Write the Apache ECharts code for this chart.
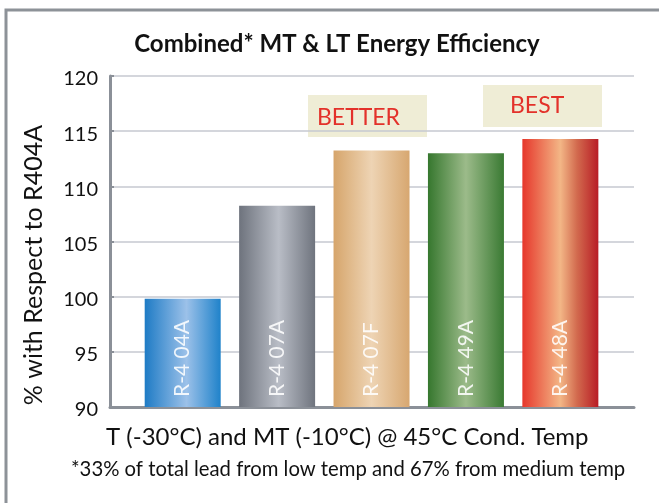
<!DOCTYPE html>
<html lang="en">
<head>
    <meta charset="UTF-8">
    <title>Combined MT & LT Energy Efficiency</title>
    <script src="https://cdn.jsdelivr.net/npm/echarts@6/dist/echarts.min.js"></script>
    <style type="text/css">
        html, body{
            margin: 0;
            padding: 0;
            background: #fff;
        }
        #main{
            width: 659px;
            height: 503px;
        }
    </style>
</head>
<body>
    <div id="main"></div>
    <script>
        // data
        var categories = ['R-4 04A', 'R-4 07A', 'R-4 07F', 'R-4 49A', 'R-4 48A'];
        var values = [99.8, 108.25, 113.25, 113.0, 114.3];
        var yTicks = [90, 95, 100, 105, 110, 115, 120];
        var notes = [
            {text: 'BETTER', cat: 2},
            {text: 'BEST', cat: 4}
        ];

        // bar gradients (edge, middle, edge)
        var barColors = [
            [['#1e7bc5', 0], ['#9cc1e9', 0.55], ['#1f82ca', 1]],
            [['#6e737d', 0], ['#b9bdc6', 0.52], ['#6f747e', 1]],
            [['#d6a56b', 0], ['#eed4b4', 0.5], ['#d7a770', 1]],
            [['#36772e', 0], ['#9cbb8a', 0.5], ['#3a7a33', 1]],
            [['#e6372b', 0], ['#f3b686', 0.5], ['#d26a4e', 0.72], ['#b81c25', 1]]
        ];

        var myChart = echarts.init(document.getElementById('main'));

        var barData = values.map(function (v, i) {
            return {
                value: [i, v],
                itemStyle: {
                    color: new echarts.graphic.LinearGradient(0, 0, 1, 0, barColors[i].map(function (s) {
                        return {offset: s[1], color: s[0]};
                    }))
                }
            };
        });

        var option = {
            backgroundColor: '#fff',
            animation: false,
            textStyle: {
                fontFamily: 'Lato'
            },
            grid: {
                left: 110,
                right: 25,
                top: 76,
                bottom: 96
            },
            xAxis: {
                type: 'value',
                min: -0.77,
                max: 4.78,
                axisLine: {
                    show: true,
                    onZero: false,
                    lineStyle: {color: '#8b9098', width: 3}
                },
                axisTick: {show: false},
                axisLabel: {show: false},
                splitLine: {show: false}
            },
            yAxis: {
                type: 'value',
                min: yTicks[0],
                max: yTicks[yTicks.length - 1],
                interval: 5,
                axisLine: {
                    show: true,
                    onZero: false,
                    lineStyle: {color: '#8b9098', width: 3}
                },
                axisTick: {
                    show: true,
                    inside: true,
                    length: 4,
                    lineStyle: {color: '#8b9098', width: 2}
                },
                axisLabel: {
                    color: '#111',
                    fontSize: 20,
                    margin: 12,
                    verticalAlign: 'top',
                    padding: [-7, 0, 0, 0]
                },
                splitLine: {
                    lineStyle: {color: '#c6c9d1', width: 1.5}
                }
            },
            series: [{
                type: 'bar',
                barWidth: 76,
                data: barData,
                label: {
                    show: true,
                    position: 'insideBottom',
                    rotate: 90,
                    align: 'left',
                    verticalAlign: 'middle',
                    distance: 10,
                    fontSize: 21,
                    color: 'rgba(255,255,255,0.88)',
                    formatter: function (p) {
                        return categories[p.dataIndex];
                    }
                }
            }],
            graphic: [
                // outer frame
                {
                    type: 'rect',
                    shape: {x: 6, y: 10, width: 700, height: 600},
                    style: {fill: 'none', stroke: '#8d9298', lineWidth: 3},
                    z: 100
                },
                {
                    type: 'text',
                    x: 337,
                    y: 44,
                    style: {
                        text: 'Combined* MT & LT Energy Efficiency',
                        font: 'bold 24px Lato',
                        fill: '#111',
                        align: 'center',
                        verticalAlign: 'middle'
                    }
                },
                {
                    type: 'text',
                    x: 34,
                    y: 265,
                    rotation: Math.PI / 2,
                    style: {
                        text: '% with Respect to R404A',
                        font: '25px Lato',
                        fill: '#111',
                        align: 'center',
                        verticalAlign: 'middle'
                    }
                },
                {
                    type: 'text',
                    x: 106,
                    y: 437,
                    style: {
                        text: 'T (-30°C) and MT (-10°C) @ 45°C Cond. Temp',
                        font: '24px Lato',
                        fill: '#111',
                        verticalAlign: 'middle'
                    }
                },
                {
                    type: 'text',
                    x: 71,
                    y: 469,
                    style: {
                        text: '*33% of total lead from low temp and 67% from medium temp',
                        font: '20.3px Lato',
                        fill: '#111',
                        verticalAlign: 'middle'
                    }
                }
            ]
        };

        myChart.setOption(option);

        // annotation boxes above the best bars
        var boxes = [
            {x: 308, y: 95, w: 119, h: 42},
            {x: 483, y: 85, w: 119, h: 42}
        ];
        var extra = [];
        notes.forEach(function (n, i) {
            var b = boxes[i];
            extra.push({
                type: 'rect',
                shape: {x: b.x, y: b.y, width: b.w, height: b.h},
                style: {fill: '#efedd6'}
            });
            extra.push({
                type: 'text',
                x: b.x + (i === 0 ? 9 : 27),
                y: b.y + b.h / 2 + (i === 0 ? 2 : 0),
                style: {
                    text: n.text,
                    font: '23px Lato',
                    fill: '#e3312a',
                    verticalAlign: 'middle'
                }
            });
        });
        myChart.setOption({graphic: option.graphic.concat(extra)});
    </script>
</body>
</html>
